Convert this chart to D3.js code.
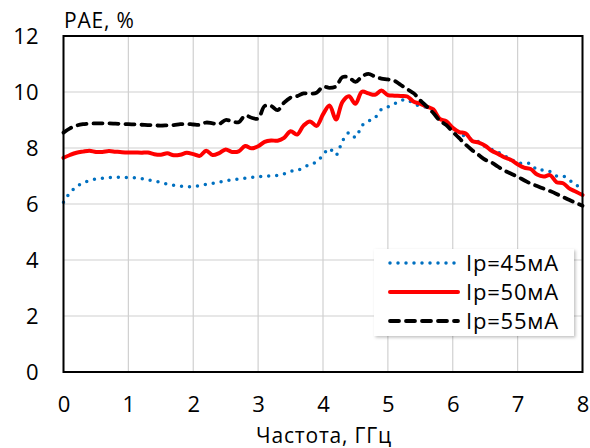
<!DOCTYPE html>
<html>
<head>
<meta charset="utf-8">
<script src="https://cdn.jsdelivr.net/npm/d3@7"></script>
<style>
  html, body { margin: 0; padding: 0; background: #ffffff; }
  svg { display: block; }
  text { font-family: "Open Sans", "Noto Sans", sans-serif; fill: #000; }
</style>
</head>
<body>
<svg id="chart" width="590" height="448"></svg>
<script>
// ---- data ----
const freq = d3.range(0, 81).map(i => +(i / 10).toFixed(1));
const seriesNames = ["Ip=45мA", "Ip=50мA", "Ip=55мA"];
const ip45 = [6.06,6.40,6.62,6.75,6.84,6.89,6.92,6.94,6.95,6.95,
  6.94,6.94,6.91,6.86,6.82,6.77,6.71,6.67,6.64,6.62,
  6.62,6.66,6.70,6.74,6.78,6.83,6.86,6.89,6.92,6.95,
  6.98,6.99,7.00,7.02,7.08,7.17,7.20,7.30,7.42,7.50,
  7.75,7.98,7.75,8.25,8.55,8.38,8.80,8.96,9.08,9.38,
  9.47,9.58,9.70,9.72,9.58,9.50,9.45,9.30,9.06,8.92,
  8.72,8.55,8.40,8.30,8.22,8.05,7.95,7.85,7.72,7.60,
  7.47,7.46,7.44,7.22,7.21,7.16,7.00,7.00,6.85,6.68,
  6.57];
const ip50 = [7.65,7.75,7.83,7.87,7.90,7.86,7.86,7.89,7.87,7.85,
  7.84,7.84,7.83,7.84,7.78,7.76,7.81,7.74,7.76,7.83,
  7.78,7.72,7.90,7.75,7.82,7.95,7.86,7.88,8.07,7.99,
  8.06,8.22,8.27,8.26,8.36,8.60,8.48,8.80,8.95,8.79,
  9.20,9.52,9.02,9.65,9.85,9.58,10.01,9.95,9.90,10.05,
  9.89,9.87,9.86,9.84,9.65,9.58,9.48,9.38,9.04,8.96,
  8.72,8.57,8.52,8.25,8.19,8.08,7.90,7.79,7.66,7.57,
  7.42,7.30,7.25,7.05,6.98,7.03,6.78,6.74,6.55,6.44,
  6.32];
const ip55 = [8.55,8.70,8.80,8.85,8.87,8.88,8.88,8.88,8.87,8.86,
  8.85,8.84,8.83,8.82,8.81,8.80,8.81,8.82,8.85,8.86,
  8.84,8.83,8.91,8.88,8.86,9.00,8.95,8.92,9.16,9.08,
  9.05,9.50,9.50,9.35,9.62,9.80,9.85,9.95,9.94,9.97,
  10.19,10.15,10.20,10.53,10.52,10.36,10.55,10.65,10.55,10.48,
  10.45,10.40,10.25,10.10,9.95,9.70,9.48,9.25,8.98,8.82,
  8.58,8.35,8.12,7.92,7.75,7.58,7.48,7.33,7.19,7.08,
  6.97,6.85,6.73,6.64,6.55,6.46,6.36,6.25,6.14,6.04,
  5.94];
const xTicks = [0,1,2,3,4,5,6,7,8];
const yTicks = [0,2,4,6,8,10,12];
const yTitle = "PAE, %";
const xTitle = "Частота, ГГц";

// ---- layout ----
const svg = d3.select("#chart");
const plot = { left: 63.5, right: 582.5, top: 36, bottom: 372 };
const x = d3.scaleLinear().domain([0, 8]).range([plot.left, plot.right]);
const y = d3.scaleLinear().domain([0, 12]).range([plot.bottom, plot.top]);

const styles = [
  { color: "#0070C0", width: 3.5, dash: "0 8", cap: "round" },
  { color: "#FF0000", width: 4, dash: null, cap: "round" },
  { color: "#000000", width: 3.8, dash: "9 7", cap: "round" }
];
const allSeries = [ip45, ip50, ip55];

// gridlines
const grid = svg.append("g");
grid.selectAll("line.h").data(yTicks).join("line")
  .attr("x1", plot.left).attr("x2", plot.right)
  .attr("y1", d => y(d)).attr("y2", d => y(d))
  .attr("stroke", "#d0d0d0").attr("stroke-width", 1.2);
grid.selectAll("line.v").data(xTicks).join("line")
  .attr("y1", plot.top).attr("y2", plot.bottom)
  .attr("x1", d => x(d)).attr("x2", d => x(d))
  .attr("stroke", "#d0d0d0").attr("stroke-width", 1.2);

// series
const line = d3.line().curve(d3.curveCatmullRom.alpha(0.5));
allSeries.forEach((vals, i) => {
  const st = styles[i];
  svg.append("path")
    .attr("d", line(vals.map((v, k) => [x(freq[k]), y(v)])))
    .attr("fill", "none")
    .attr("stroke", st.color)
    .attr("stroke-width", st.width)
    .attr("stroke-linecap", st.cap)
    .attr("stroke-linejoin", "round")
    .attr("stroke-dasharray", st.dash);
});

// frame
svg.append("rect")
  .attr("x", plot.left).attr("y", plot.top)
  .attr("width", plot.right - plot.left).attr("height", plot.bottom - plot.top)
  .attr("fill", "none").attr("stroke", "#000").attr("stroke-width", 2);

// axes (labels via d3 axis)
const xAxis = svg.append("g").attr("transform", `translate(0,${plot.bottom})`)
  .call(d3.axisBottom(x).tickValues(xTicks).tickSize(0).tickPadding(24).tickFormat(d3.format("d")));
xAxis.select(".domain").remove();
xAxis.selectAll("text").attr("font-size", 22).attr("font-family", "Open Sans");

const yAxis = svg.append("g").attr("transform", `translate(${plot.left},0)`)
  .call(d3.axisLeft(y).tickValues(yTicks).tickSize(0).tickPadding(25).tickFormat(d3.format("d")));
yAxis.select(".domain").remove();
yAxis.selectAll("text").attr("font-size", 22).attr("font-family", "Open Sans");

// titles
svg.append("text").attr("x", 64).attr("y", 28).attr("font-size", 21)
  .attr("letter-spacing", 0.8).text(yTitle);
svg.append("text").attr("x", 324).attr("y", 443).attr("text-anchor", "middle")
  .attr("font-size", 21).attr("letter-spacing", 0.8).text(xTitle);

// legend
const defs = svg.append("defs");
const f = defs.append("filter").attr("id", "sh").attr("x", "-10%").attr("y", "-10%").attr("width", "130%").attr("height", "130%");
f.append("feDropShadow").attr("dx", 1.5).attr("dy", 1.5).attr("stdDeviation", 1.5).attr("flood-color", "#000").attr("flood-opacity", 0.25);
const lg = svg.append("g");
lg.append("rect").attr("x", 374).attr("y", 249).attr("width", 200).attr("height", 87)
  .attr("fill", "#fff").attr("filter", "url(#sh)");
seriesNames.forEach((name, i) => {
  const st = styles[i];
  const ly = 263 + i * 29;
  lg.append("line").attr("x1", 390).attr("x2", 458).attr("y1", ly).attr("y2", ly)
    .attr("stroke", st.color).attr("stroke-width", st.width)
    .attr("stroke-linecap", st.cap).attr("stroke-dasharray", st.dash);
  lg.append("text").attr("x", 466).attr("y", ly).attr("dy", "0.36em")
    .attr("font-size", 22).attr("letter-spacing", 0.8).text(name);
});
</script>
</body>
</html>
